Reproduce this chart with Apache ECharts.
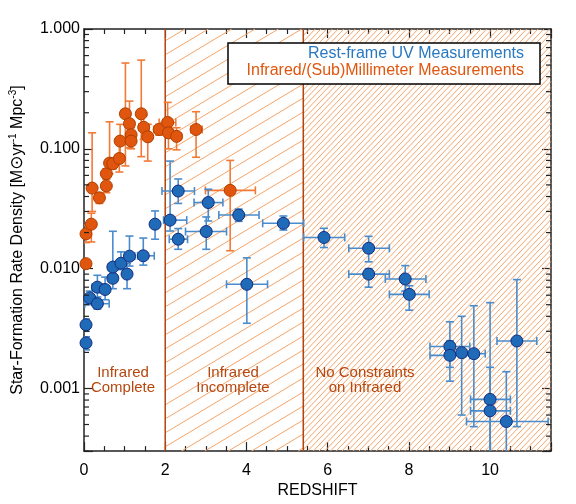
<!DOCTYPE html>
<html>
<head>
<meta charset="utf-8">
<script src="https://cdn.jsdelivr.net/npm/echarts@6/dist/echarts.min.js"></script>
<style>
  html, body { margin: 0; padding: 0; background: #fff; }
  #sfrd { width: 576px; height: 504px; }
</style>
</head>
<body>
<div id="sfrd"></div>
<script>
// each row: [redshift, SFRD, zLow, zHigh, sfrdLow, sfrdHigh]  (null = no bar)
var uvPoints = [
  [0.05, 0.0034, null, null, 0.0030, 0.0038],
  [0.05, 0.0024, null, null, 0.0021, 0.0027],
  [0.14, 0.0057, 0.05, 0.25, 0.0050, 0.0065],
  [0.33, 0.0051, 0.02, 0.62, 0.0046, 0.0058],
  [0.33, 0.0070, 0.2, 0.45, 0.0055, 0.0088],
  [0.52, 0.0067, 0.4, 0.62, 0.0055, 0.0085],
  [0.71, 0.0083, 0.6, 0.8, 0.0068, 0.0095],
  [0.71, 0.0103, 0.6, 0.8, 0.0085, 0.0205],
  [0.91, 0.0111, 0.82, 1.0, 0.0098, 0.0138],
  [1.06, 0.0090, 0.98, 1.15, 0.0068, 0.0110],
  [1.12, 0.0127, 1.0, 1.25, 0.0105, 0.0187],
  [1.46, 0.0128, 1.32, 1.73, 0.0107, 0.0180],
  [1.75, 0.0235, 1.7, 1.8, 0.0176, 0.0303],
  [2.12, 0.0254, 1.96, 2.53, 0.0206, 0.079],
  [2.32, 0.0176, 2.1, 2.55, 0.0145, 0.0216],
  [2.32, 0.0444, 1.92, 2.72, 0.035, 0.056],
  [3.01, 0.0204, 2.5, 3.51, 0.0145, 0.027],
  [3.06, 0.0356, 2.71, 3.42, 0.025, 0.046],
  [3.81, 0.0280, 3.32, 4.31, 0.0248, 0.0314],
  [4.01, 0.0074, 3.51, 4.52, 0.0035, 0.0123],
  [4.91, 0.0239, 4.4, 5.41, 0.021, 0.0275],
  [5.91, 0.0182, 5.41, 6.42, 0.015, 0.0217],
  [7.01, 0.0148, 6.52, 7.52, 0.0114, 0.0186],
  [7.01, 0.0090, 6.52, 7.52, 0.0070, 0.0100],
  [7.91, 0.0082, 7.42, 8.42, 0.0065, 0.0106],
  [8.01, 0.0061, 7.52, 8.5, 0.0045, 0.0072],
  [9.01, 0.00224, 8.52, 9.5, 0.00115, 0.0036],
  [9.01, 0.00189, 8.52, 9.5, 0.0015, 0.0025],
  [9.3, 0.00199, 9.1, 9.5, 0.0006, 0.004],
  [9.6, 0.00195, 9.4, 9.88, 0.00048, 0.0049],
  [10.0, 0.00081, 9.52, 10.5, 0.0002, 0.0052],
  [10.0, 0.00065, 9.52, 10.5, 0.0002, 0.0015],
  [10.4, 0.00053, 9.42, 11.43, 0.0002, 0.00138],
  [10.66, 0.00249, 10.17, 11.15, 0.00048, 0.0081]
];

var irPoints = [
  [0.05, 0.011, null, null, null, null],
  [0.05, 0.0195, null, null, 0.0165, 0.023],
  [0.18, 0.0235, 0.12, 0.24, 0.0167, 0.029],
  [0.2, 0.047, null, null, 0.03, 0.136],
  [0.38, 0.039, null, null, 0.035, 0.043],
  [0.55, 0.049, 0.5, 0.6, 0.043, 0.056],
  [0.55, 0.062, null, null, 0.056, 0.068],
  [0.63, 0.076, 0.55, 0.7, 0.062, 0.168],
  [0.71, 0.075, null, null, 0.068, 0.083],
  [0.87, 0.083, 0.8, 0.95, 0.064, 0.11],
  [0.89, 0.116, 0.8, 0.98, 0.09, 0.16],
  [1.02, 0.196, 0.92, 1.12, 0.072, 0.52],
  [1.12, 0.162, 1.05, 1.2, 0.102, 0.25],
  [1.16, 0.131, null, null, 0.11, 0.15],
  [1.16, 0.116, 1.1, 1.22, 0.1, 0.13],
  [1.41, 0.196, null, null, 0.086, 0.55],
  [1.47, 0.151, 1.35, 1.6, 0.12, 0.19],
  [1.57, 0.126, 1.5, 1.65, 0.079, 0.16],
  [1.85, 0.145, 1.72, 1.97, 0.13, 0.16],
  [2.06, 0.166, 1.85, 2.26, 0.14, 0.244],
  [2.08, 0.136, 2.0, 2.2, 0.1, 0.15],
  [2.28, 0.127, 2.2, 2.4, 0.098, 0.15],
  [2.76, 0.145, 2.63, 2.91, 0.085, 0.204],
  [3.6, 0.045, 2.99, 4.22, 0.0141, 0.08]
];

// redshift ranges of the shaded zones
var zones = [[2, 5.4], [5.4, 11.5]];
var zoneLabels = ['Infrared\nComplete', 'Infrared\nIncomplete', 'No Constraints\non Infrared'];
var xRange = [0, 11.5];
var yRange = [0.0003, 1];

// minor log ticks (2..9 per decade)
var yMinorTicks = [];
for (var k = -4; k <= 0; k++) {
  for (var m = 2; m <= 9; m++) {
    var t = m * Math.pow(10, k);
    if (t > yRange[0] && t < yRange[1]) yMinorTicks.push([0, t]);
  }
}

var FONT = 'Liberation Sans';
var hatchLook = [{ gap: 14, slope: 0.6 }, { gap: 6, slope: 1.05 }];

function errorBars(color) {
  return function (params, api) {
    var z = api.value(0), s = api.value(1);
    var zl = api.value(2), zh = api.value(3), sl = api.value(4), sh = api.value(5);
    var c = api.coord([z, s]);
    var cap = 4;
    var style = { stroke: color, lineWidth: 1.6 };
    var kids = [];
    if (isFinite(sl) && isFinite(sh) && sl > 0) {
      var a = api.coord([z, sl]), b = api.coord([z, sh]);
      kids.push({ type: 'line', shape: { x1: c[0], y1: a[1], x2: c[0], y2: b[1] }, style: style });
      kids.push({ type: 'line', shape: { x1: c[0] - cap, y1: a[1], x2: c[0] + cap, y2: a[1] }, style: style });
      kids.push({ type: 'line', shape: { x1: c[0] - cap, y1: b[1], x2: c[0] + cap, y2: b[1] }, style: style });
    }
    if (isFinite(zl) && isFinite(zh)) {
      var l = api.coord([zl, s]), r = api.coord([zh, s]);
      kids.push({ type: 'line', shape: { x1: l[0], y1: c[1], x2: r[0], y2: c[1] }, style: style });
      kids.push({ type: 'line', shape: { x1: l[0], y1: c[1] - cap, x2: l[0], y2: c[1] + cap }, style: style });
      kids.push({ type: 'line', shape: { x1: r[0], y1: c[1] - cap, x2: r[0], y2: c[1] + cap }, style: style });
    }
    return { type: 'group', children: kids };
  };
}

var chart = echarts.init(document.getElementById('sfrd'));

var axisLine = { show: true, onZero: false, lineStyle: { color: '#222', width: 1.5 } };

function xAxisDef(pos, labels) {
  return {
    type: 'value', position: pos, min: xRange[0], max: xRange[1], interval: 2,
    axisLine: axisLine,
    axisTick: { inside: true, length: 9, lineStyle: { color: '#222', width: 1.2 } },
    minorTick: { show: true, splitNumber: 4, length: 5, lineStyle: { color: '#222', width: 1.2 } },
    splitLine: { show: false },
    axisLabel: {
      show: labels, margin: 11, color: '#000', fontSize: 16, fontFamily: FONT,
      formatter: function (v) { return v % 2 === 0 ? String(v) : ''; }
    }
  };
}

function yAxisDef(pos, labels) {
  return {
    type: 'log', logBase: 10, position: pos, min: yRange[0], max: yRange[1],
    axisLine: axisLine,
    axisTick: { inside: true, length: 9, lineStyle: { color: '#222', width: 1.2 } },
    splitLine: { show: false },
    axisLabel: {
      show: labels, margin: 4, color: '#000', fontSize: 16, fontFamily: FONT,
      formatter: function (v) {
        var l = Math.log10(v);
        return Math.abs(l - Math.round(l)) < 1e-6 ? v.toFixed(3) : '';
      }
    }
  };
}

var xBottom = xAxisDef('bottom', true);
xBottom.name = 'REDSHIFT';
xBottom.nameLocation = 'middle';
xBottom.nameGap = 29;
xBottom.nameTextStyle = { color: '#000', fontSize: 16, fontFamily: FONT };

var yLeft = yAxisDef('left', true);
yLeft.name = '{a|Star-Formation Rate Density [M}{sun|\u2299}{a|yr}{sup|-1}{a| Mpc}{sup|-3}{a|]}';
yLeft.nameLocation = 'middle';
yLeft.nameGap = 56;
yLeft.nameTextStyle = {
  color: '#000', fontFamily: FONT,
  rich: {
    a: { fontSize: 16, lineHeight: 20, fontFamily: FONT, color: '#000' },
    sun: { fontSize: 17, lineHeight: 20, fontFamily: 'DejaVu Sans', color: '#000' },
    sup: { fontSize: 10, lineHeight: 12, verticalAlign: 'top', fontFamily: FONT, color: '#000' }
  }
};

var option = {
  animation: false,
  backgroundColor: '#fff',
  grid: { left: 81, right: 25, top: 29, bottom: 52 },
  xAxis: [xBottom, xAxisDef('top', false)],
  yAxis: [yLeft, yAxisDef('right', false)],
  graphic: [
    { type: 'rect', shape: { x: 228, y: 43, width: 312, height: 41 },
      style: { fill: '#fff', stroke: '#000', lineWidth: 1.5 }, z: 100 },
    { type: 'text', x: 524, y: 54, z: 101,
      style: { text: 'Rest-frame UV Measurements', fill: '#2878c0', font: '16px "Liberation Sans"',
               textAlign: 'right', textVerticalAlign: 'middle' } },
    { type: 'text', x: 524, y: 71, z: 101,
      style: { text: 'Infrared/(Sub)Millimeter Measurements', fill: '#e0560e', font: '16px "Liberation Sans"',
               textAlign: 'right', textVerticalAlign: 'middle' } },
    { type: 'text', x: 123, y: 380, z: 101,
      style: { text: zoneLabels[0], fill: '#b5470f', font: '15px "Liberation Sans"', lineHeight: 15,
               textAlign: 'center', textVerticalAlign: 'middle' } },
    { type: 'text', x: 233, y: 380, z: 101,
      style: { text: zoneLabels[1], fill: '#b5470f', font: '15px "Liberation Sans"', lineHeight: 15,
               textAlign: 'center', textVerticalAlign: 'middle' } },
    { type: 'text', x: 365, y: 380, z: 101,
      style: { text: zoneLabels[2], fill: '#b5470f', font: '15px "Liberation Sans"', lineHeight: 15,
               textAlign: 'center', textVerticalAlign: 'middle' } }
  ],
  series: [
    {
      type: 'custom', name: 'zones', z: 1, silent: true,
      data: zones.map(function (zn, i) { return [zn[0], zn[1], i]; }),
      encode: { x: [0, 1] },
      renderItem: function (params, api) {
        var cs = params.coordSys;
        var look = hatchLook[api.value(2)];
        var x1 = api.coord([api.value(0), yRange[1]])[0];
        var x2 = api.coord([api.value(1), yRange[1]])[0];
        var y1 = cs.y, y2 = cs.y + cs.height, s = look.slope;
        var kids = [];
        var cStart = y1 + s * x1, cEnd = y2 + s * x2;
        var first = Math.ceil(cStart / look.gap) * look.gap;
        for (var c = first; c <= cEnd; c += look.gap) {
          var xa = Math.max(x1, (c - y2) / s), xb = Math.min(x2, (c - y1) / s);
          if (xb > xa) {
            kids.push({ type: 'line', shape: { x1: xa, y1: c - s * xa, x2: xb, y2: c - s * xb },
                        style: { stroke: '#f7a468', lineWidth: 1 } });
          }
        }
        kids.push({ type: 'line', shape: { x1: x1, y1: y1, x2: x1, y2: y2 },
                    style: { stroke: '#b5420c', lineWidth: 1.5 } });
        return { type: 'group', children: kids };
      }
    },
    {
      type: 'custom', name: 'minor', z: 5, silent: true,
      data: yMinorTicks,
      renderItem: function (params, api) {
        var cs = params.coordSys;
        var y = api.coord([0, api.value(1)])[1];
        var st = { stroke: '#222', lineWidth: 1.2 };
        return { type: 'group', children: [
          { type: 'line', shape: { x1: cs.x, y1: y, x2: cs.x + 5, y2: y }, style: st },
          { type: 'line', shape: { x1: cs.x + cs.width - 5, y1: y, x2: cs.x + cs.width, y2: y }, style: st }
        ] };
      }
    },
    {
      type: 'custom', name: 'IR errors', z: 2, clip: true, silent: true,
      data: irPoints, encode: { x: 0, y: 1 },
      renderItem: errorBars('#f27a36')
    },
    {
      type: 'custom', name: 'UV errors', z: 2, clip: true, silent: true,
      data: uvPoints, encode: { x: 0, y: 1 },
      renderItem: errorBars('#4a8ccb')
    },
    {
      type: 'scatter', name: 'Infrared/(Sub)Millimeter Measurements', z: 3, clip: true,
      data: irPoints.map(function (p) { return [p[0], p[1]]; }),
      symbolSize: 12,
      itemStyle: { color: '#e0560e', borderColor: '#b04000', borderWidth: 1, opacity: 1 }
    },
    {
      type: 'scatter', name: 'Rest-frame UV Measurements', z: 4, clip: true,
      data: uvPoints.map(function (p) { return [p[0], p[1]]; }),
      symbolSize: 12,
      itemStyle: { color: '#1f6bb8', borderColor: '#132c80', borderWidth: 1, opacity: 1 }
    }
  ]
};

chart.setOption(option);
</script>
</body>
</html>
